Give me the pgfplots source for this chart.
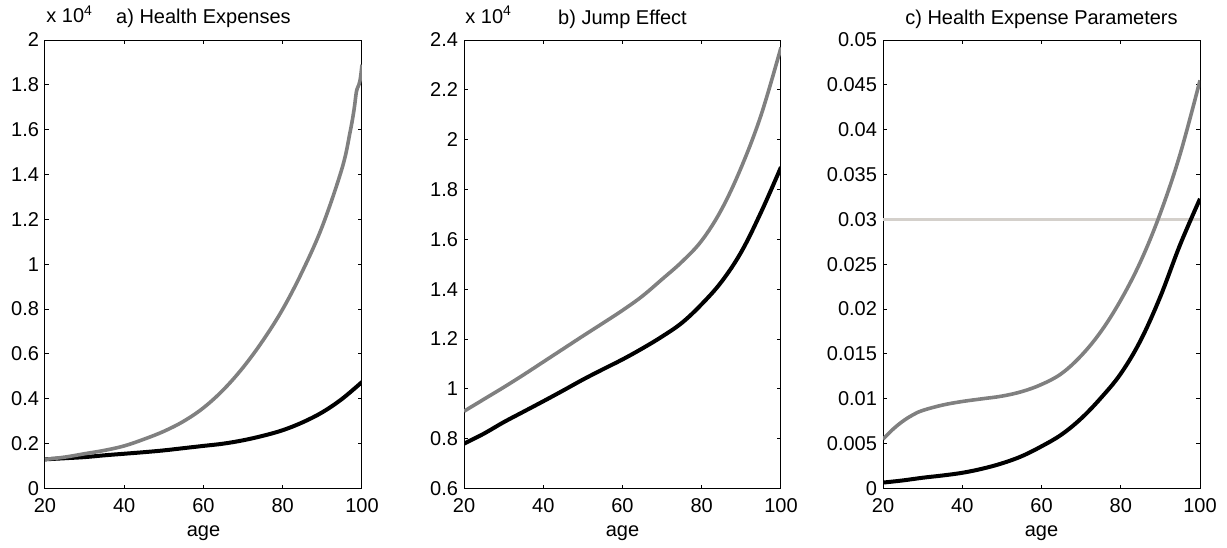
\documentclass[border=0pt]{standalone}
\usepackage{pgfplots}
\pgfplotsset{compat=1.18}
\usepackage{fontspec}
\setmainfont{Liberation Sans}
\definecolor{mgray}{RGB}{128,128,128}
\definecolor{lgray}{RGB}{212,208,203}
\pgfplotsset{
  panel/.style={
    scale only axis, width=158.5pt, height=224.25pt,
    clip mode=individual,
    xmin=20, xmax=100, xtick={20,40,60,80,100},
    xtick pos=both, ytick pos=both, tick align=inside,
    major tick length=2pt,
    axis line style={line width=0.5pt}, every tick/.style={black,line width=0.5pt},
    /pgf/number format/assume math mode=true,
    scaled y ticks=false,
    yticklabel style={/pgf/number format/fixed,/pgf/number format/precision=3,xshift=0.5pt},
    xticklabel style={yshift=-1.5pt},
    xlabel={age},
    xlabel style={at={(axis description cs:0.5,0)},anchor=base,yshift=-23.75pt},
    title style={at={(axis description cs:0.5,1)},anchor=base,yshift=2pt},
  },
  blk/.style={black,line width=2pt,smooth,tension=0.6},
  gry/.style={mgray,line width=1.8pt,smooth,tension=0.6},
}
\begin{document}
\fontsize{10}{12}\selectfont
\begin{tikzpicture}
\useasboundingbox (0,-29.25pt) rectangle (613.5pt,244.25pt);
% Panel a
\begin{axis}[panel, at={(22.5pt,0)}, ymin=0, ymax=2,
  ytick={0,0.2,0.4,0.6,0.8,1,1.2,1.4,1.6,1.8,2},
  title={a) Health Expenses}]
\addplot[blk] coordinates {(20,0.13) (25,0.135) (30,0.14) (35,0.148) (40,0.155) (45,0.162) (50,0.17) (55,0.18) (60,0.19) (65,0.20) (70,0.215) (75,0.235) (80,0.26) (85,0.295) (90,0.34) (95,0.40) (100,0.475)};
\addplot[gry] coordinates {(20,0.13) (25,0.14) (30,0.155) (35,0.17) (40,0.19) (45,0.22) (50,0.255) (55,0.30) (60,0.36) (65,0.44) (70,0.54) (75,0.66) (80,0.80) (85,0.97) (90,1.17) (95,1.43) (97,1.59) (98,1.69) (98.6,1.77) (99.2,1.80) (99.6,1.83) (100,1.89)};
\node[anchor=base west,inner sep=0pt] at (rel axis cs:0,1) [yshift=8.5pt,xshift=0.5pt] {x 10\textsuperscript{4}};
\end{axis}
% Panel b
\begin{axis}[panel, at={(232pt,0)}, ymin=0.6, ymax=2.4,
  ytick={0.6,0.8,1,1.2,1.4,1.6,1.8,2,2.2,2.4},
  title={b) Jump Effect}]
\addplot[blk] coordinates {(20,0.78) (25,0.82) (30,0.866) (35,0.908) (40,0.95) (45,0.993) (50,1.037) (55,1.078) (60,1.118) (65,1.162) (70,1.21) (75,1.265) (80,1.34) (85,1.43) (90,1.55) (95,1.71) (100,1.89)};
\addplot[gry] coordinates {(20,0.91) (25,0.958) (30,1.006) (35,1.056) (40,1.108) (45,1.16) (50,1.212) (55,1.263) (60,1.315) (65,1.372) (70,1.44) (75,1.51) (80,1.595) (85,1.72) (90,1.89) (95,2.10) (100,2.37)};
\node[anchor=base west,inner sep=0pt] at (rel axis cs:0,1) [yshift=8.5pt,xshift=0.5pt] {x 10\textsuperscript{4}};
\end{axis}
% Panel c
\begin{axis}[panel, at={(441.5pt,0)}, ymin=0, ymax=0.05,
  ytick={0,0.005,0.01,0.015,0.02,0.025,0.03,0.035,0.04,0.045,0.05},
  title={c) Health Expense Parameters}]
\addplot[lgray,line width=1.8pt] coordinates {(20,0.03) (100,0.03)};
\addplot[blk] coordinates {(20,0.00066) (25,0.0009) (30,0.0012) (35,0.00145) (40,0.00175) (45,0.0022) (50,0.0028) (55,0.0036) (60,0.0047) (65,0.006) (70,0.0078) (75,0.0101) (80,0.0128) (85,0.0165) (90,0.0214) (95,0.0272) (100,0.0323)};
\addplot[gry] coordinates {(20,0.0055) (22.5,0.0066) (25,0.0075) (27.5,0.0082) (30,0.0087) (35,0.0093) (40,0.0097) (45,0.0100) (50,0.0103) (55,0.0108) (60,0.0116) (65,0.0128) (70,0.0148) (75,0.0175) (80,0.0210) (85,0.0253) (90,0.0307) (95,0.0373) (100,0.0455)};
\end{axis}
\end{tikzpicture}
\end{document}
